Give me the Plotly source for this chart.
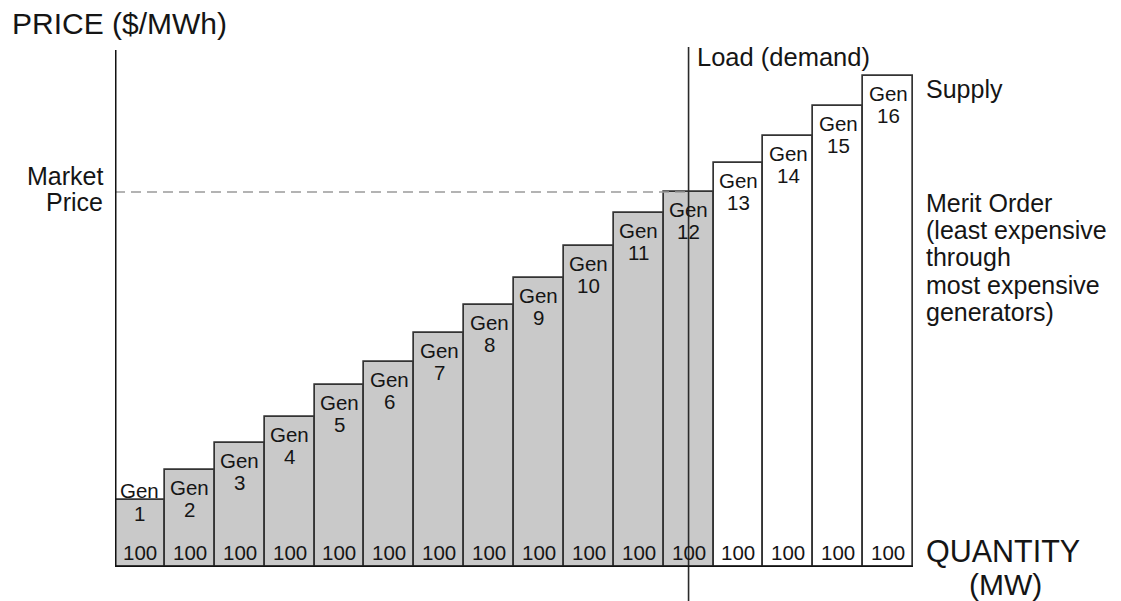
import plotly.graph_objects as go

# ---- data ----
gen_numbers = list(range(1, 17))
capacity_mw = [100] * 16
price_levels = [67, 97, 124, 150, 182, 205, 234, 262, 289, 321, 354, 375, 404, 431, 461, 491]
load_mw = 1150
market_price = 375
merit_lines = ["Merit Order", "(least expensive", "through", "most expensive", "generators)"]

FONT = "Liberation Sans, Arial, sans-serif"
TXT = "#151515"

# cumulative positions
starts = []
acc = 0
for c in capacity_mw:
    starts.append(acc)
    acc += c
centers = [s + c / 2 for s, c in zip(starts, capacity_mw)]
total = acc

colors = ["#c9c9c9" if s < load_mw else "#ffffff" for s in starts]

fig = go.Figure()
fig.add_trace(go.Bar(
    x=centers, y=price_levels, width=capacity_mw,
    marker=dict(color=colors, line=dict(color="#333333", width=1.7)),
    hoverinfo="skip", showlegend=False,
))

W, H = 1121, 601
ml, mr, mt, mb = 115, 208, 50, 34
pw, ph = W - ml - mr, H - mt - mb


def px_x(x):
    return (x - ml) / pw


def px_y(y):
    return 1 - (y - mt) / ph


ann = []
for i, (g, cx, p, q) in enumerate(zip(gen_numbers, centers, price_levels, capacity_mw)):
    if i == 0:
        gy, ny = 10, -13
    else:
        gy, ny = -17, -39
    ann.append(dict(x=cx, y=p, xref="x", yref="y", text="Gen", showarrow=False,
                    yshift=gy, yanchor="middle", font=dict(size=20.5, family=FONT, color=TXT)))
    ann.append(dict(x=cx, y=p, xref="x", yref="y", text=str(g), showarrow=False,
                    yshift=ny, yanchor="middle", font=dict(size=20.5, family=FONT, color=TXT)))
    ann.append(dict(x=cx, y=0, xref="x", yref="y", text=str(q), showarrow=False,
                    yshift=15, yanchor="middle", font=dict(size=20.5, family=FONT, color=TXT)))

ann.append(dict(x=px_x(10), y=px_y(23), xref="paper", yref="paper", text="PRICE ($/MWh)",
                showarrow=False, xanchor="left", yanchor="middle",
                font=dict(size=30, family=FONT, color=TXT)))
ann.append(dict(x=px_x(105), y=px_y(176), xref="paper", yref="paper", text="Market",
                showarrow=False, xanchor="right", yanchor="middle",
                font=dict(size=25, family=FONT, color=TXT)))
ann.append(dict(x=px_x(105), y=px_y(202), xref="paper", yref="paper", text="Price",
                showarrow=False, xanchor="right", yanchor="middle",
                font=dict(size=25, family=FONT, color=TXT)))
ann.append(dict(x=px_x(695), y=px_y(57), xref="paper", yref="paper", text="Load (demand)",
                showarrow=False, xanchor="left", yanchor="middle",
                font=dict(size=25.5, family=FONT, color=TXT)))
ann.append(dict(x=px_x(924), y=px_y(89), xref="paper", yref="paper", text="Supply",
                showarrow=False, xanchor="left", yanchor="middle",
                font=dict(size=25, family=FONT, color=TXT)))
for k, line in enumerate(merit_lines):
    ann.append(dict(x=px_x(924), y=px_y(203 + 27.2 * k), xref="paper", yref="paper", text=line,
                    showarrow=False, xanchor="left", yanchor="middle",
                    font=dict(size=25, family=FONT, color=TXT)))
ann.append(dict(x=px_x(924), y=px_y(551), xref="paper", yref="paper", text="QUANTITY",
                showarrow=False, xanchor="left", yanchor="middle",
                font=dict(size=30.5, family=FONT, color=TXT)))
ann.append(dict(x=px_x(1005), y=px_y(584), xref="paper", yref="paper", text="(MW)",
                showarrow=False, xanchor="center", yanchor="middle",
                font=dict(size=30, family=FONT, color=TXT)))

shapes = [
    # market price dashed line
    dict(type="line", xref="x", yref="y", x0=0, x1=load_mw, y0=market_price, y1=market_price,
         line=dict(color="#9a9a9a", width=1.6, dash="10px,6px")),
    # load line
    dict(type="line", xref="x", yref="paper", x0=load_mw, x1=load_mw, y0=px_y(601), y1=px_y(47),
         line=dict(color="#2a2a2a", width=1.6)),
    # y axis
    dict(type="line", xref="x", yref="paper", x0=0, x1=0, y0=0, y1=1,
         line=dict(color="#111111", width=3)),
    # x axis
    dict(type="line", xref="x", yref="y", x0=0, x1=total, y0=0, y1=0,
         line=dict(color="#111111", width=3)),
]

fig.update_layout(
    width=W, height=H,
    margin=dict(l=ml, r=mr, t=mt, b=mb),
    paper_bgcolor="white", plot_bgcolor="white",
    xaxis=dict(range=[0, total], visible=False, fixedrange=True),
    yaxis=dict(range=[0, ph], visible=False, fixedrange=True),
    bargap=0,
    annotations=ann,
    shapes=shapes,
    showlegend=False,
)

fig.write_html("out.html", config={"displayModeBar": False},
               post_script="document.body.style.margin='0px';document.body.style.overflow='hidden';")
